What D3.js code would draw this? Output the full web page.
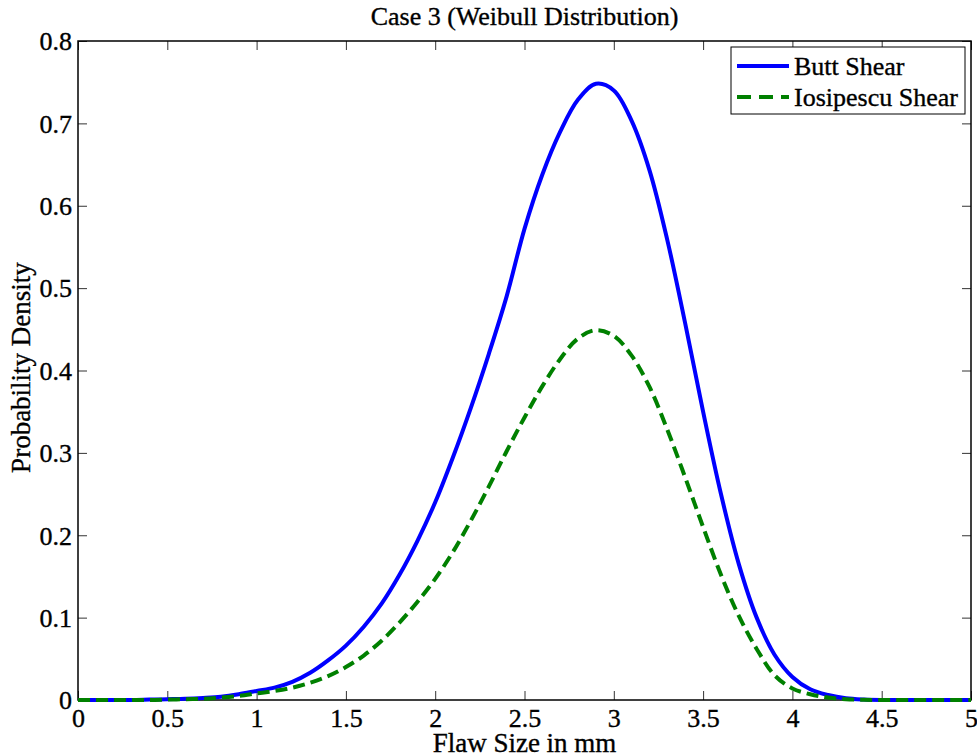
<!DOCTYPE html>
<html>
<head>
<meta charset="utf-8">
<script src="https://cdn.jsdelivr.net/npm/d3@7"></script>
<style>
  body { margin: 0; background: #fff; }
  svg text { font-family: "Liberation Serif", "Times New Roman", serif; fill: #000; stroke: #000; stroke-width: 0.35px; }
</style>
</head>
<body>
<svg id="chart"></svg>
<script>
// values (x in mm, density)
const flawSize = [0, 0.1, 0.2, 0.3, 0.4, 0.5, 0.6, 0.7, 0.8, 0.9,
                  1.0, 1.1, 1.2, 1.3, 1.4, 1.5, 1.6, 1.7, 1.8, 1.9,
                  2.0, 2.1, 2.2, 2.3, 2.4, 2.5, 2.6, 2.7, 2.8, 2.9,
                  3.0, 3.1, 3.2, 3.3, 3.4, 3.5, 3.6, 3.7, 3.8, 3.9,
                  4.0, 4.1, 4.2, 4.3, 4.4, 4.5, 4.6, 4.7, 4.8, 4.9, 5.0];
const buttShear = [0, 0, 0, 0, 0.0005, 0.001, 0.0015, 0.0025, 0.004, 0.007,
                   0.011, 0.015, 0.022, 0.033, 0.048, 0.066, 0.089, 0.117, 0.152, 0.193,
                   0.24, 0.295, 0.355, 0.42, 0.49, 0.572, 0.638, 0.69, 0.729, 0.748,
                   0.74, 0.703, 0.643, 0.558, 0.457, 0.35, 0.25, 0.165, 0.10, 0.055,
                   0.028, 0.013, 0.006, 0.002, 0.0005, 0, 0, 0, 0, 0, 0];
const iosipescuShear = [0, 0, 0, 0, 0, 0.0005, 0.001, 0.0015, 0.003, 0.005,
                        0.008, 0.011, 0.015, 0.021, 0.029, 0.04, 0.054, 0.072, 0.094, 0.119,
                        0.147, 0.18, 0.218, 0.259, 0.302, 0.343, 0.381, 0.414, 0.439, 0.449,
                        0.442, 0.418, 0.38, 0.328, 0.27, 0.21, 0.152, 0.102, 0.062, 0.03,
                        0.014, 0.007, 0.003, 0.001, 0.0003, 0, 0, 0, 0, 0, 0];

const seriesNames = ['Butt Shear', 'Iosipescu Shear'];
const xTicks = [0, 0.5, 1, 1.5, 2, 2.5, 3, 3.5, 4, 4.5, 5];
const yTicks = [0, 0.1, 0.2, 0.3, 0.4, 0.5, 0.6, 0.7, 0.8];

const width = 977, height = 756;
const margin = {top: 41, right: 6, bottom: 56, left: 78};
const innerW = width - margin.left - margin.right;
const innerH = height - margin.top - margin.bottom;

const svg = d3.select('#chart').attr('width', width).attr('height', height);
const chart = svg.append('g').attr('transform', `translate(${margin.left}, ${margin.top})`);

const xscale = d3.scaleLinear().domain([0, 5]).range([0, innerW]);
const yscale = d3.scaleLinear().domain([0, 0.8]).range([innerH, 0]);

const tickLen = 9;
const fmt = d => d3.format('')(d);

// ticks on all four sides, pointing inwards
const xBottom = d3.axisBottom(xscale).tickValues(xTicks).tickFormat(fmt).tickSizeInner(-tickLen).tickSizeOuter(0).tickPadding(9);
const xTop = d3.axisTop(xscale).tickValues(xTicks).tickFormat('').tickSizeInner(-tickLen).tickSizeOuter(0);
const yLeft = d3.axisLeft(yscale).tickValues(yTicks).tickFormat(fmt).tickSizeInner(-tickLen).tickSizeOuter(0).tickPadding(6);
const yRight = d3.axisRight(yscale).tickValues(yTicks).tickFormat('').tickSizeInner(-tickLen).tickSizeOuter(0);

const gxb = chart.append('g').attr('transform', `translate(0, ${innerH})`).call(xBottom);
const gxt = chart.append('g').call(xTop);
const gyl = chart.append('g').call(yLeft);
const gyr = chart.append('g').attr('transform', `translate(${innerW}, 0)`).call(yRight);

[gxb, gxt, gyl, gyr].forEach(g => {
    g.select('.domain').remove();
    g.selectAll('.tick line').attr('stroke', '#333').attr('stroke-width', 1);
    g.selectAll('.tick text').style('font-size', '26px').attr('fill', '#000');
});
gyl.selectAll('.tick text').attr('dy', '0.34em');

chart.append('rect')
    .attr('x', 0).attr('y', 0)
    .attr('width', innerW).attr('height', innerH)
    .attr('fill', 'none').attr('stroke', '#000').attr('stroke-width', 1.5);

const line = d3.line()
    .x(d => xscale(d[0]))
    .y(d => yscale(Math.max(0, d[1])))
    .curve(d3.curveCatmullRom.alpha(0.5));

const buttData = flawSize.map((x, i) => [x, buttShear[i]]);
const iosiData = flawSize.map((x, i) => [x, iosipescuShear[i]]);

chart.append('path')
    .datum(buttData)
    .attr('d', line)
    .attr('fill', 'none')
    .attr('stroke', '#0000ff')
    .attr('stroke-width', 4);

chart.append('path')
    .datum(iosiData)
    .attr('d', line)
    .attr('fill', 'none')
    .attr('stroke', '#008000')
    .attr('stroke-width', 4)
    .attr('stroke-dasharray', '12,6');

// legend
const legend = svg.append('g').attr('transform', 'translate(731, 47)');
legend.append('rect')
    .attr('width', 234).attr('height', 67)
    .attr('fill', '#fff').attr('stroke', '#000').attr('stroke-width', 1);
const styles = [
    {color: '#0000ff', dash: null},
    {color: '#008000', dash: '14,8'}
];
seriesNames.forEach((name, i) => {
    const y = 19 + i * 31;
    legend.append('line')
        .attr('x1', 6).attr('x2', 58).attr('y1', y).attr('y2', y)
        .attr('stroke', styles[i].color).attr('stroke-width', 4)
        .attr('stroke-dasharray', styles[i].dash);
    legend.append('text')
        .attr('x', 63).attr('y', y).attr('dy', '0.34em')
        .style('font-size', '26px')
        .text(name);
});

// title and axis labels
svg.append('text')
    .attr('x', margin.left + innerW / 2).attr('y', 25)
    .attr('text-anchor', 'middle')
    .style('font-size', '26px')
    .text('Case 3 (Weibull Distribution)');

svg.append('text')
    .attr('x', margin.left + innerW / 2).attr('y', 752)
    .attr('text-anchor', 'middle')
    .style('font-size', '27px')
    .text('Flaw Size in mm');

svg.append('text')
    .attr('transform', 'rotate(-90)')
    .attr('x', -(margin.top + innerH / 2) + 3).attr('y', 30)
    .attr('text-anchor', 'middle')
    .style('font-size', '27px')
    .text('Probability Density');
</script>
</body>
</html>
